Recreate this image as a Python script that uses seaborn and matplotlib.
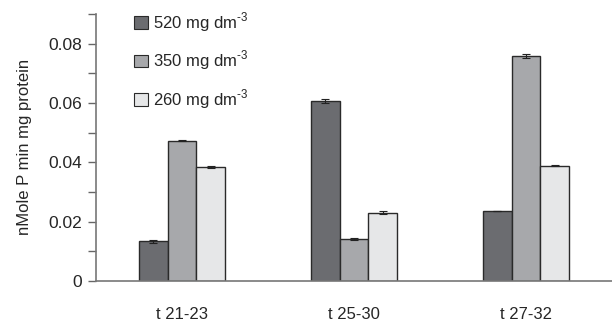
import matplotlib
matplotlib.use("Agg")
import matplotlib.pyplot as plt
import seaborn as sns
import pandas as pd
import numpy as np
from matplotlib.patches import Patch

categories = ["t 21-23", "t 25-30", "t 27-32"]
series = ["520 mg dm$^{\\text{-3}}$", "350 mg dm$^{\\text{-3}}$", "260 mg dm$^{\\text{-3}}$"]
values_520 = [0.0133, 0.0607, 0.0236]
values_350 = [0.0473, 0.0141, 0.0758]
values_260 = [0.0384, 0.0230, 0.0388]
err_520 = [0.0006, 0.0006, 0.0001]
err_350 = [0.0003, 0.0003, 0.0007]
err_260 = [0.0005, 0.0004, 0.0002]
colors = ["#6b6c70", "#a7a8ab", "#e6e7e8"]

vals = [values_520, values_350, values_260]
errs = [err_520, err_350, err_260]
rows = []
for s, v, e in zip(series, vals, errs):
    for c, vv, ee in zip(categories, v, e):
        rows.append({"cat": c, "series": s, "value": vv, "err": ee})
df = pd.DataFrame(rows)

sns.set_style("white")
plt.rcParams["font.family"] = ["Liberation Sans", "DejaVu Sans"]
plt.rcParams["mathtext.fontset"] = "custom"
plt.rcParams["mathtext.rm"] = "Liberation Sans"

fig = plt.figure(figsize=(6.12, 3.24), dpi=100)
ax = fig.add_axes([0.157, 0.133, 0.843, 0.824])

sns.barplot(data=df, x="cat", y="value", hue="series", order=categories,
            hue_order=series, palette=colors, width=0.5, errorbar=None,
            edgecolor="#2a2a2a", linewidth=1.0, saturation=1, ax=ax, legend=False)

# error bars at bar centers
for i, s in enumerate(series):
    cont = ax.containers[i]
    sub = df[df.series == s].set_index("cat").loc[categories]
    xs = [p.get_x() + p.get_width() / 2 for p in cont.patches]
    ax.errorbar(xs, sub["value"].values, yerr=sub["err"].values, fmt="none",
                ecolor="#222222", elinewidth=0.8, capsize=3, capthick=0.8, zorder=5)

ax.set_xlim(-0.5, 2.5)
ax.set_ylim(0, 0.09)
ax.set_yticks([0, 0.02, 0.04, 0.06, 0.08])
ax.set_yticklabels(["0", "0.02", "0.04", "0.06", "0.08"])
ax.set_yticks([0.01, 0.03, 0.05, 0.07, 0.09], minor=True)
ax.tick_params(axis="y", which="both", direction="out", length=6, width=1,
               color="#666666", left=True, labelsize=12.5, pad=4)
ax.tick_params(axis="x", length=0, labelsize=12, pad=19)
ax.set_xlabel("")
ax.set_ylabel("nMole P min mg protein", fontsize=12, labelpad=12)

for side in ["top", "right"]:
    ax.spines[side].set_visible(False)
for side in ["left", "bottom"]:
    ax.spines[side].set_color("#777777")
    ax.spines[side].set_linewidth(1.2)

handles = [Patch(facecolor=c, edgecolor="#2a2a2a", linewidth=0.8) for c in colors]
leg = ax.legend(handles, series, loc="upper left", bbox_to_anchor=(0.045, 1.07),
                frameon=False, fontsize=12, handlelength=0.8, handleheight=0.8,
                handletextpad=0.3, labelspacing=0.9)

fig.savefig("out.png", dpi=100)
